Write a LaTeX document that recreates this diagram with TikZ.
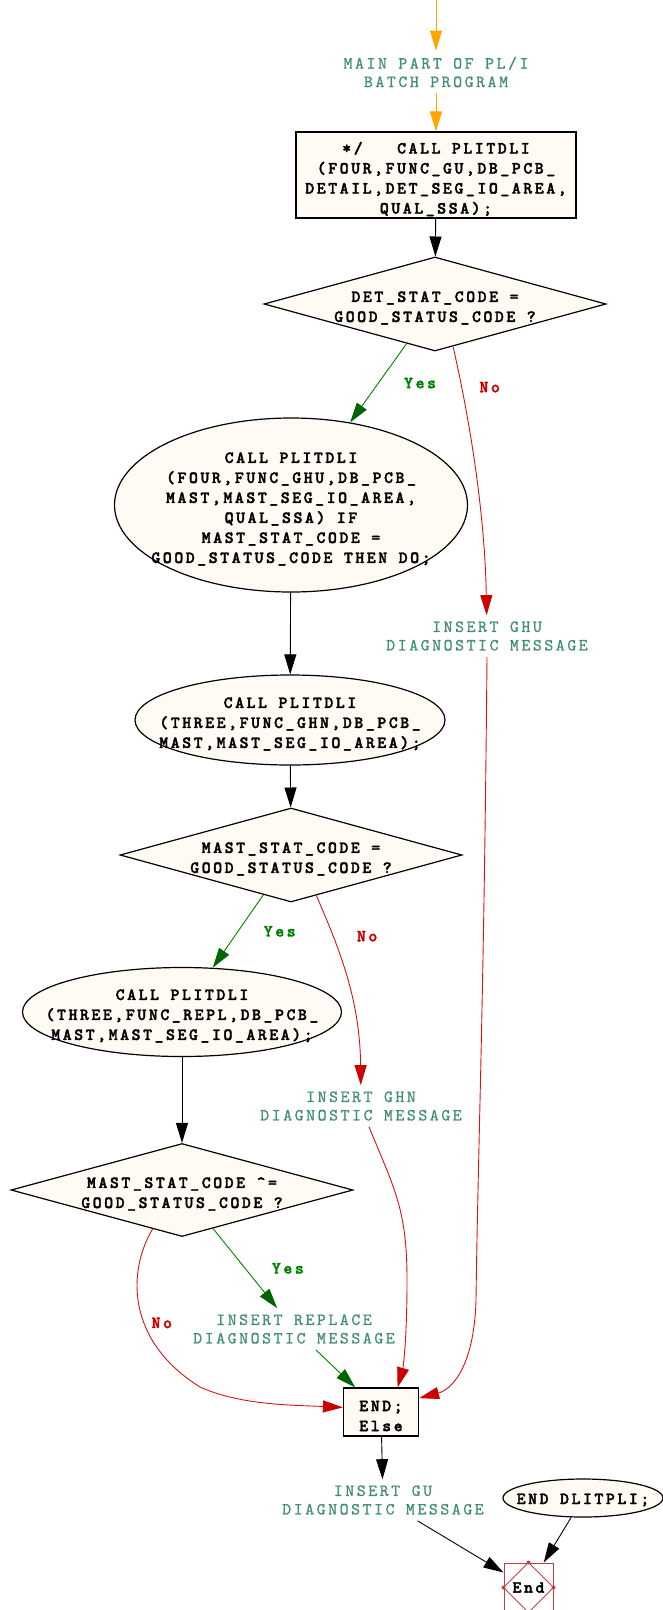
\documentclass[tikz,border=0pt]{standalone}
\usepackage{fontspec}
\newfontfamily\codefont{lmmono10-regular.otf}[BoldFont=lmmonolt10-bold.otf,
  UprightFeatures={FakeBold=0.8},BoldFeatures={FakeBold=2},LetterSpace=15]
\usetikzlibrary{arrows.meta,positioning,calc,shapes.geometric}
\definecolor{msgtxt}{HTML}{3F8F70}
\definecolor{boxfill}{HTML}{FFFAF3}
\definecolor{entry}{HTML}{FFA500}
\definecolor{yesline}{HTML}{008000}
\definecolor{yeshead}{HTML}{006400}
\definecolor{noline}{HTML}{DD1111}
\definecolor{nohead}{HTML}{CC0000}
\definecolor{finred}{HTML}{C04040}

\begin{document}
\begin{tikzpicture}[x=1pt,y=-1pt,
    code/.style={font=\codefont\fontsize{17}{20}\selectfont\bfseries,align=center},
    inside/.style={code,yshift=-4pt},
    msg/.style={font=\codefont\fontsize{17}{18.5}\selectfont,text=msgtxt,align=center,
                inner xsep=2pt,inner ysep=6pt},
    shapebox/.style={draw=black,line width=1.2pt,fill=boxfill,inner sep=0pt},
    stmt/.style={shapebox,rectangle},
    call/.style={shapebox,ellipse},
    test/.style={shapebox,diamond,minimum width=342pt,minimum height=94pt},
    flow/.style={line width=0.9pt,-{Triangle[length=20pt,width=12pt]}},
    yes/.style={flow,yesline,-{Triangle[length=20pt,width=12pt,color=yeshead]}},
    no/.style={flow,noline,-{Triangle[length=20pt,width=12pt,color=nohead]}},
    yestag/.style={font=\codefont\fontsize{17}{18}\selectfont\bfseries,text=yesline},
    notag/.style={font=\codefont\fontsize{17}{18}\selectfont\bfseries,text=nohead}]
  \useasboundingbox (0,0) rectangle (663,1610);

  \coordinate (entry) at (436,0);
  \node[msg] (main) at (436,72) {MAIN PART OF PL/I\\BATCH PROGRAM};
  \node[stmt,minimum width=280pt,minimum height=86pt,
        label={[inside]center:{*/~~~CALL PLITDLI\\(FOUR,FUNC\_GU,DB\_PCB\_\\DETAIL,DET\_SEG\_IO\_AREA,\\QUAL\_SSA);}}]
    (call1) at (436,175) {};
  \node[test,label={[inside]center:{DET\_STAT\_CODE =\\GOOD\_STATUS\_CODE ?}}] (d1) at (435,304) {};
  \node[call,minimum width=353pt,minimum height=174pt,
        label={[inside]center:{CALL PLITDLI\\(FOUR,FUNC\_GHU,DB\_PCB\_\\MAST,MAST\_SEG\_IO\_AREA,\\QUAL\_SSA) IF\\MAST\_STAT\_CODE =\\GOOD\_STATUS\_CODE THEN DO;}}]
    (call2) at (291,505) {};
  \node[msg] (ghu) at (487,636) {INSERT GHU\\DIAGNOSTIC MESSAGE};
  \node[call,minimum width=310pt,minimum height=90pt,
        label={[inside]center:{CALL PLITDLI\\(THREE,FUNC\_GHN,DB\_PCB\_\\MAST,MAST\_SEG\_IO\_AREA);}}]
    (call3) at (290,720) {};
  \node[test,label={[inside]center:{MAST\_STAT\_CODE =\\GOOD\_STATUS\_CODE ?}}] (d2) at (291,855) {};
  \node[call,minimum width=319pt,minimum height=89pt,
        label={[inside]center:{CALL PLITDLI\\(THREE,FUNC\_REPL,DB\_PCB\_\\MAST,MAST\_SEG\_IO\_AREA);}}]
    (call4) at (182,1012) {};
  \node[msg] (ghn) at (361,1106) {INSERT GHN\\DIAGNOSTIC MESSAGE};
  \node[test,minimum height=93pt,
        label={[inside]center:{MAST\_STAT\_CODE \textasciicircum=\\GOOD\_STATUS\_CODE ?}}] (d3) at (182,1190) {};
  \node[msg] (repl) at (294,1329) {INSERT REPLACE\\DIAGNOSTIC MESSAGE};
  \node[stmt,minimum width=75pt,minimum height=48pt,label={[inside,align=left]center:{END;\\Else}}]
    (endelse) at (381,1412) {};
  \node[msg] (gu) at (383,1500) {INSERT GU\\DIAGNOSTIC MESSAGE};
  \node[call,minimum width=160pt,minimum height=38pt,label={[inside,yshift=2pt]center:{END DLITPLI;}}]
    (enddli) at (583,1498) {};
  \node[draw=finred,line width=1pt,minimum size=49pt,inner sep=0pt] (endn) at (528.5,1587.5) {};
  \draw[finred,line width=0.9pt] (endn.north) -- (endn.east) -- (endn.south) -- (endn.west) -- cycle;
  \foreach \a in {north,east,south,west}
    \fill[finred] (endn.\a) circle (2pt);
  \node[code] at (endn) {End};

  \draw[flow,entry] (entry) -- (main);
  \draw[flow,entry] (main) -- (call1);
  \draw[flow] (call1) -- (d1);
  \draw[yes] (d1) -- (call2) node[yestag,midway,right=22pt] {Yes};
  \draw[no] (d1.293) .. controls (472,430) and (485,520) .. (ghu)
    node[notag,pos=0.16,right=14pt] {No};
  \draw[flow] (call2) -- (call3);
  \draw[flow] (call3) -- (d2);
  \draw[yes] (d2) -- (call4) node[yestag,midway,right=22pt] {Yes};
  \draw[no] (d2.302) .. controls (340,950) and (360,1000) .. (ghn)
    node[notag,pos=0.25,right=20pt] {No};
  \draw[flow] (call4) -- (d3);
  \draw[yes] (d3) -- (repl) node[yestag,midway,right=23pt] {Yes};
  \draw[no] (d3.233) .. controls (128,1270) and (125,1340) .. (200,1387)
    node[notag,pos=0.6,right=4pt] {No}
    .. controls (240,1405) and (290,1405) .. (endelse.173);
  \draw[yes] (repl) -- (endelse);
  \draw[no] ($(ghn.south)+(8,0)$) .. controls (395,1190) and (407,1210) .. (407,1280)
    .. controls (407,1350) and (402,1372) .. (endelse.56);
  \draw[no] (ghu.south) .. controls (484,1000) and (478,1150) .. (476,1300)
    .. controls (474,1370) and (450,1390) .. (endelse.20);
  \draw[flow] (endelse) -- (gu);
  \draw[flow] (gu) -- (endn);
  \draw[flow] (enddli) -- (endn);
\end{tikzpicture}
\end{document}
